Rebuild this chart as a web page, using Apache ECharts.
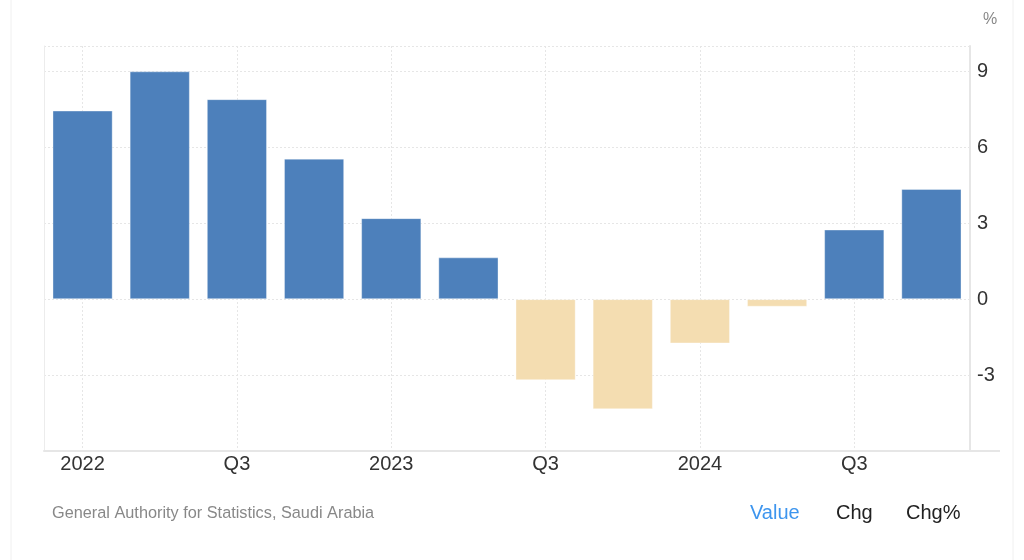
<!DOCTYPE html>
<html>
<head>
<meta charset="utf-8">
<script src="https://cdn.jsdelivr.net/npm/echarts@6/dist/echarts.min.js"></script>
<style>
html,body{margin:0;padding:0;background:#fff;}
#c{width:1024px;height:560px;}
</style>
</head>
<body>
<div id="c"></div>
<script>
const categories = ['2022','Q2','Q3','Q4','2023','Q2','Q3','Q4','2024','Q2','Q3','Q4'];
const values = [7.45, 9.0, 7.9, 5.55, 3.2, 1.65, -3.2, -4.35, -1.75, -0.3, 2.75, 4.35];
const yTicks = [-3, 0, 3, 6, 9];

const chart = echarts.init(document.getElementById('c'), null, {renderer: 'canvas'});
const FONT = 'Liberation Sans, Arial, sans-serif';
chart.setOption({
  animation: false,
  backgroundColor: '#fff',
  grid: {left: 44, right: 54, top: 46, bottom: 109, containLabel: false},
  xAxis: {
    type: 'category',
    data: categories,
    boundaryGap: true,
    axisLine: {show: true, onZero: false, lineStyle: {color: '#e6e6e6', width: 2}},
    axisTick: {show: false, alignWithLabel: true},
    axisLabel: {interval: 1, color: '#333', fontSize: 20, fontFamily: FONT, margin: 3},
    splitLine: {show: true, interval: 1, alignWithLabel: true, lineStyle: {color: '#e6e6e6', type: [2, 2]}}
  },
  yAxis: [{
    type: 'value',
    position: 'right',
    min: -6, max: 10, interval: 3,
    axisLine: {show: true, lineStyle: {color: '#e6e6e6', width: 2}},
    axisTick: {show: false},
    axisLabel: {
      color: '#333', fontSize: 20, fontFamily: FONT, margin: 7,
      formatter: v => yTicks.indexOf(v) >= 0 ? String(v) : ''
    },
    splitLine: {show: true, lineStyle: {color: '#e6e6e6', type: [2, 2]}}
  }, {
    type: 'value',
    position: 'left',
    min: -6, max: 10,
    axisLine: {show: true, lineStyle: {color: '#ececec', width: 1}},
    axisTick: {show: false},
    axisLabel: {show: false},
    splitLine: {show: false}
  }],
  series: [{
    type: 'bar',
    data: values,
    barWidth: '78%',
    itemStyle: {
      color: p => p.value < 0 ? '#f4ddb1' : '#4d80bb',
      borderColor: 'rgba(255,255,255,0.35)',
      borderWidth: 1
    }
  }],
  graphic: [
    {type: 'line', shape: {x1: 11, y1: 0, x2: 11, y2: 560}, style: {stroke: '#f0f0f0', lineWidth: 1}},
    {type: 'line', shape: {x1: 1013, y1: 0, x2: 1013, y2: 560}, style: {stroke: '#f0f0f0', lineWidth: 1}},
    {type: 'line', shape: {x1: 970, y1: 451, x2: 1000, y2: 451}, style: {stroke: '#e6e6e6', lineWidth: 2}},
    {type: 'text', left: 983, top: 12, style: {text: '%', fill: '#888', font: '16px ' + FONT}},
    {type: 'text', left: 52, top: 506, style: {text: 'General Authority for Statistics, Saudi Arabia', fill: '#888', font: '16.3px ' + FONT}},
    {type: 'text', left: 750, top: 503, style: {text: 'Value', fill: '#3d95ee', font: '20px ' + FONT}},
    {type: 'text', left: 836, top: 503, style: {text: 'Chg', fill: '#222', font: '20px ' + FONT}},
    {type: 'text', left: 906, top: 503, style: {text: 'Chg%', fill: '#222', font: '20px ' + FONT}}
  ]
});
</script>
</body>
</html>
